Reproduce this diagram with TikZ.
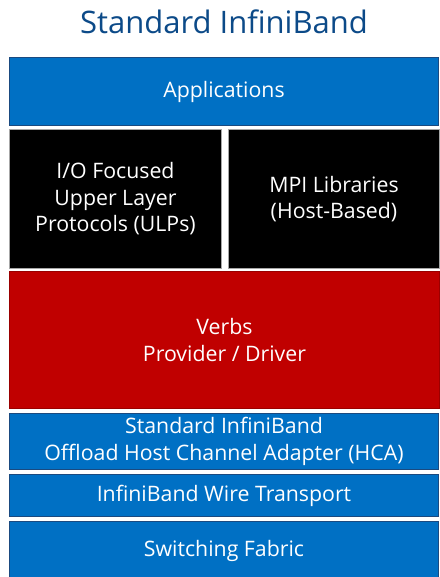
\documentclass[tikz,border=0pt]{standalone}
\usepackage{fontspec}
\setmainfont{Open Sans}
\definecolor{ibblue}{HTML}{0070C4}
\definecolor{ibedge}{HTML}{1A4A80}
\definecolor{ibred}{HTML}{C00000}
\definecolor{ibtitle}{HTML}{0C4A88}
\tikzset{
	layer/.style={draw=ibedge, line width=1pt, fill=ibblue, text=white, anchor=north west, inner sep=0pt, align=center, font=\fontsize{21.3}{26.5}\selectfont},
	ulpbox/.style={layer, draw=gray!70, fill=black},
	verbbox/.style={layer, draw=ibred!80!black, fill=ibred}
}
\begin{document}
\begin{tikzpicture}[x=1pt, y=-1pt]
	\useasboundingbox (0,0) rectangle (439,577);
	\node [text=ibtitle, font=\fontsize{31}{36}\selectfont] (title) at (224,22) {Standard InfiniBand};
	\node [layer, minimum width=429pt, minimum height=68pt] (apps) at (9,57) {Applications};
	\node [ulpbox, minimum width=212pt, minimum height=139pt] (ulps) at (9,129) {I/O Focused\\Upper Layer\\Protocols (ULPs)};
	\node [ulpbox, minimum width=211pt, minimum height=139pt] (mpi) at (228,129) {MPI Libraries\\(Host-Based)};
	\node [verbbox, minimum width=430pt, minimum height=137pt] (verbs) at (9,271) {Verbs\\Provider / Driver};
	\node [layer, minimum width=429pt, minimum height=56pt] (hca) at (9,413) {Standard InfiniBand\\Offload Host Channel Adapter (HCA)};
	\node [layer, minimum width=429pt, minimum height=42pt] (wire) at (9,474) {InfiniBand Wire Transport};
	\node [layer, minimum width=429pt, minimum height=58pt] (fabric) at (9,521) {Switching Fabric};
\end{tikzpicture}
\end{document}
